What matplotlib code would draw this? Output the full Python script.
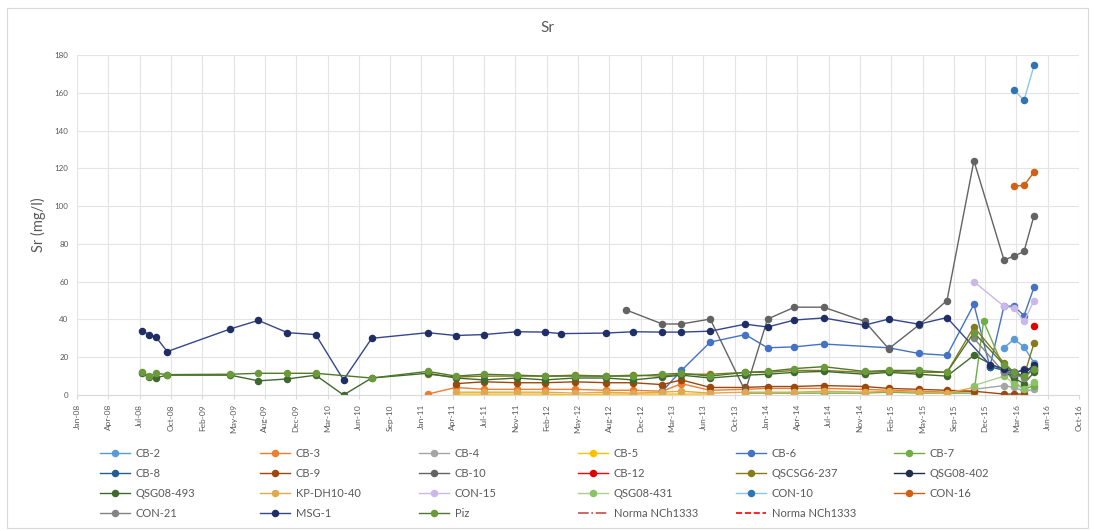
import numpy as np
import pandas as pd
import matplotlib
matplotlib.use('Agg')
import matplotlib.pyplot as plt
import matplotlib.dates as mdates
from matplotlib.patches import Rectangle

plt.rcParams['font.family'] = ['Lato', 'DejaVu Sans']

_ = None

# sampling dates shared by all wells
dates = pd.to_datetime([
    '2008-07-27', '2008-08-18', '2008-09-10', '2008-10-15', '2009-05-05',
    '2009-08-02', '2009-11-03', '2010-02-01', '2010-05-01', '2010-07-30',
    '2011-01-25', '2011-04-25', '2011-07-23', '2011-11-06', '2012-02-03',
    '2012-03-26', '2012-05-10', '2012-08-17', '2012-10-20', '2012-11-11',
    '2013-02-12', '2013-04-14', '2013-07-15', '2013-11-04', '2014-01-14',
    '2014-04-10', '2014-07-12', '2014-11-20', '2015-02-05', '2015-05-12',
    '2015-08-10', '2015-11-04', '2015-12-05', '2015-12-25', '2016-02-08',
    '2016-03-11', '2016-04-12', '2016-05-14'])

# Sr (mg/l), one value per date, None = not sampled
cb2 = [_]*34 + [25, 29.5, 25.5, 17]
cb3 = [_]*10 + [0.5, 4, 3, 3, 3, _, 3, 2.5, _, 2.5,
                2, 6, 2.5, 3, 3.5, 3.5, 3.5, 3, 2.5, 2,
                1.5, 2, _, _, _, _, _, _]
cb4 = [_]*31 + [3, _, _, 5, 4, 2, 3]
cb5 = [_]*10 + [_, 0.5, 0.5, 0.5, 0.5, _, 0, 0.5, _, 0.5,
                0.5, 0.5, 0.5] + [_]*15
cb6 = [_]*20 + [2, 13, 28, 32, 25, 25.5, 27, _, 25, 22,
                21, 48, _, 15, 47, 47, 42, 57]
cb7 = [_]*20 + [_, _, _, 1, 1, 1, 1, 1, 1.5, 1,
                1, 1, 39, _, 14, 7, 3, 5]
cb8 = [_]*33 + [15, 13, 11, 14, 13]
cb9 = [_]*10 + [_, 6, 7, 6.5, 6.5, _, 7, 6.5, _, 6.5,
                5.5, 8, 4, 4, 4.5, 4.5, 5, 4.5, 3.5, 3,
                2.5, 2, _, _, 0.5, 0.5, 0.5, _]
cb10 = [_]*18 + [45, _,
                 37.6, 37.6, 40.2, 2, 40.2, 46.5, 46.5, 39, 24.5, 37,
                 50, 124, _, _, 71.5, 73.5, 76, 95]
cb12 = [_]*37 + [36.5]
qscsg6_237 = [_]*10 + [11, 9.5, 10, 10, 10, _, 10.5, 10, _, 10.5,
                       10, 11, 11, 12, 12, 13, 13, 12, 12.5, 12,
                       12, 36, _, _, 17, 12, 10, 27.5]
qsg08_402 = [_]*34 + [12, 10, 11, 16]
qsg08_493 = [11.5, 9.5, 9.2, 10.5, 10.5, 7.5, 8.5, 10.5, 0, 9,
             11.5, 9, 8, 9, 8, _, 9, 9, _, 8,
             9.5, 10.5, 9, 10.5, 11, 12, 12.5, 11, 12, 11,
             10, 21, _, _, 13, 9, 6, 12]
kp_dh10_40 = [_]*10 + [_, 1.5, 1.5, 1.5, 1.5, _, 1, 1.5, _, 1,
                       1.5, 2, 1, 1.5, 1.5, 1.5, 2, 1.5, 2, 1.5,
                       1, 4, _, _, _, _, _, _]
con15 = [_]*31 + [60, _, _, 47, 46, 39, 50]
qsg08_431 = [_]*31 + [5, _, _, 10, 6, 3, 7]
con10 = [_]*35 + [161.5, 156, 174.5]
con16 = [_]*35 + [110.5, 111, 118]
con21 = [_]*31 + [30, _, _, 12, 11, 9, 14]
msg1 = [34, 32, 30.5, 23, 35, 39.5, 33, 32, 8, 30,
        33, 31.5, 32, 33.5, 33.3, 32.5, _, 32.8, _, 33.5,
        33.3, 33.3, 33.8, 37.5, 36, 39.7, 40.8, 37, 40.2, 37.5,
        41, _, _, 16, 14, 12, 13, 15]
piz = [12, 10, 11.5, 10.8, 11, 11.5, 11.5, 11.5, _, 9,
       12.5, 10, 11, 10.5, 10, _, 10, 10, _, 10,
       11, 11.5, 10, 12, 12.5, 14, 15, 12.5, 13, 13,
       12, 33, _, _, 16, 12, 10, 14]

# (label, values, line colour, marker colour)
series = [
    ('CB-2', cb2, '#5B9BD5', '#5B9BD5'),
    ('CB-3', cb3, '#ED7D31', '#ED7D31'),
    ('CB-4', cb4, '#A5A5A5', '#A5A5A5'),
    ('CB-5', cb5, '#FFC000', '#FFC000'),
    ('CB-6', cb6, '#4472C4', '#4472C4'),
    ('CB-7', cb7, '#70AD47', '#70AD47'),
    ('CB-8', cb8, '#255E91', '#255E91'),
    ('CB-9', cb9, '#9E480E', '#9E480E'),
    ('CB-10', cb10, '#636363', '#636363'),
    ('CB-12', cb12, '#FF0000', '#E00000'),
    ('QSCSG6-237', qscsg6_237, '#857A1C', '#857A1C'),
    ('QSG08-402', qsg08_402, '#1F2D4E', '#1F2D4E'),
    ('QSG08-493', qsg08_493, '#3F6A2E', '#3F6A2E'),
    ('KP-DH10-40', kp_dh10_40, '#E0A94F', '#E0A94F'),
    ('CON-15', con15, '#C9B8E8', '#C9B8E8'),
    ('QSG08-431', qsg08_431, '#A9D18E', '#8CC168'),
    ('CON-10', con10, '#8DC4EA', '#2E75B6'),
    ('CON-16', con16, '#D26012', '#D26012'),
    ('CON-21', con21, '#848484', '#848484'),
    ('MSG-1', msg1, '#34468C', '#1F2F66'),
    ('Piz', piz, '#4E7A27', '#6A9A3A'),
]

fig = plt.figure(figsize=(10.94, 5.31), dpi=100)
ax = fig.add_axes([0.0704, 0.2561, 0.916, 0.6403])

handles = []
for name, vals, lc, mc in series:
    v = np.array([np.nan if x is None else x for x in vals], dtype=float)
    ok = ~np.isnan(v)
    h, = ax.plot(dates[ok], v[ok], color=lc, lw=1.0, marker='o', ms=4.4,
                 mfc=mc, mec=mc, label=name)
    handles.append(h)

# standard lines: no values inside the plotted range
norma_dates = []
norma_vals = []
h, = ax.plot(norma_dates, norma_vals, color='#C0504D', lw=1.2, ls='-.', label='Norma NCh1333')
handles.append(h)
h, = ax.plot(norma_dates, norma_vals, color='#FF0000', lw=1.2, ls='--', label='Norma NCh1333')
handles.append(h)

# axes
start = pd.Timestamp('2008-01-01')
ticks = [start + pd.Timedelta(days=100 * k) for k in range(33)]
ax.set_xlim(ticks[0], ticks[-1])
ax.set_xticks(ticks)
ax.xaxis.set_major_formatter(mdates.DateFormatter('%b-%y'))
ax.set_ylim(0, 180)
ax.set_yticks(range(0, 181, 20))
for lab in ax.get_xticklabels():
    lab.set_rotation(90)
ax.tick_params(axis='x', labelsize=6, labelcolor='#595959', length=3, color='#D9D9D9')
ax.tick_params(axis='y', labelsize=5.8, labelcolor='#595959', length=0, pad=6)
ax.grid(color='#E4E4E4', lw=0.8)
ax.set_axisbelow(True)
for s in ['top', 'right', 'left']:
    ax.spines[s].set_visible(False)
ax.spines['bottom'].set_color('#D9D9D9')

fig.text(0.5, 1 - 28 / 531, 'Sr', ha='center', va='center', fontsize=11, color='#595959')
fig.text(38 / 1094, 1 - 225 / 531, 'Sr (mg/l)', rotation=90, ha='center', va='center',
         fontsize=10.5, color='#595959')

# legend: 6 equal columns, filled row by row
col_x = [100, 260, 419, 578, 736, 894]
for j, x in enumerate(col_x):
    items = handles[j::6]
    fig.legend(items, [i.get_label() for i in items], loc='upper left',
               bbox_to_anchor=(x / 1094, 1 - 448 / 531), frameon=False,
               borderpad=0, borderaxespad=0, handlelength=2.7, handletextpad=0.5,
               labelspacing=0.8, fontsize=8, labelcolor='#595959', numpoints=1)

# chart area border
fig.patches.append(Rectangle((7 / 1094, 3 / 531), 1081 / 1094, 520 / 531,
                             transform=fig.transFigure, fill=False,
                             ec='#D9D9D9', lw=0.8))

fig.savefig('out.png', dpi=100)
